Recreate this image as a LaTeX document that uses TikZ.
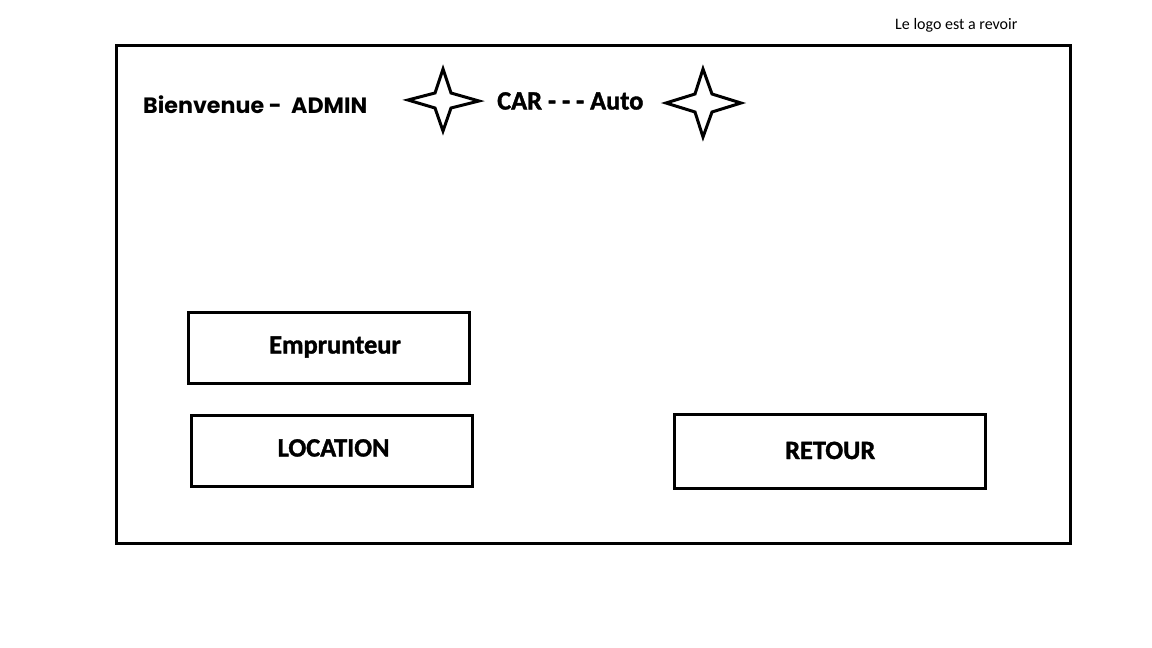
\documentclass[tikz,border=0pt]{standalone}
\usepackage{fontspec}
\setmainfont{Carlito}
\newfontfamily\cbold{Carlito-Bold.ttf}[FakeBold=1.4]
\newfontfamily\popfont{Poppins}
\begin{document}
\begin{tikzpicture}[x=1pt,y=-1pt,
  frame/.style={draw=black,line width=3pt},
  btn/.style={draw=black,line width=3pt,rectangle,inner sep=0pt},
  lbl/.style={anchor=base west,inner sep=0pt,font=\cbold\fontsize{26.4}{30}\selectfont},
  starline/.style={draw=black,line width=3pt,line join=miter,fill=white}]
\useasboundingbox[fill=white] (0,0) rectangle (1152,648);
\draw[frame] (116,45) rectangle (1070,543);
\node[anchor=base west,inner sep=0pt,font=\fontsize{16}{18}\selectfont] (note) at (895,29) {Le logo est a revoir};
\node[font=\popfont\fontsize{22.2}{24}\selectfont\bfseries,anchor=base west,inner sep=0pt] (welcome) at (143,113) {Bienvenue -\ \ ADMIN};
\node[lbl] (title) at (497,109.5) {CAR - - - Auto};
\draw[starline] (408,100) -- (435,93) -- (443,69) -- (451,93) -- (479,101) -- (451,108) -- (443,131) -- (435,108) -- cycle;
\draw[starline] (666,103) -- (695,94) -- (703,69) -- (712,94) -- (741,103) -- (712,112) -- (703,137) -- (695,112) -- cycle;
\node[btn,minimum width=281pt,minimum height=71pt] (emp) at (328.5,347.5) {};
\node[btn,minimum width=281pt,minimum height=71pt] (loc) at (331.5,450.5) {};
\node[btn,minimum width=311pt,minimum height=74pt] (ret) at (829.5,451) {};
\node[lbl] (empt) at (269,353.5) {Emprunteur};
\node[lbl] (loct) at (277.5,456.5) {LOCATION};
\node[lbl] (rett) at (785,459) {RETOUR};
\end{tikzpicture}
\end{document}
